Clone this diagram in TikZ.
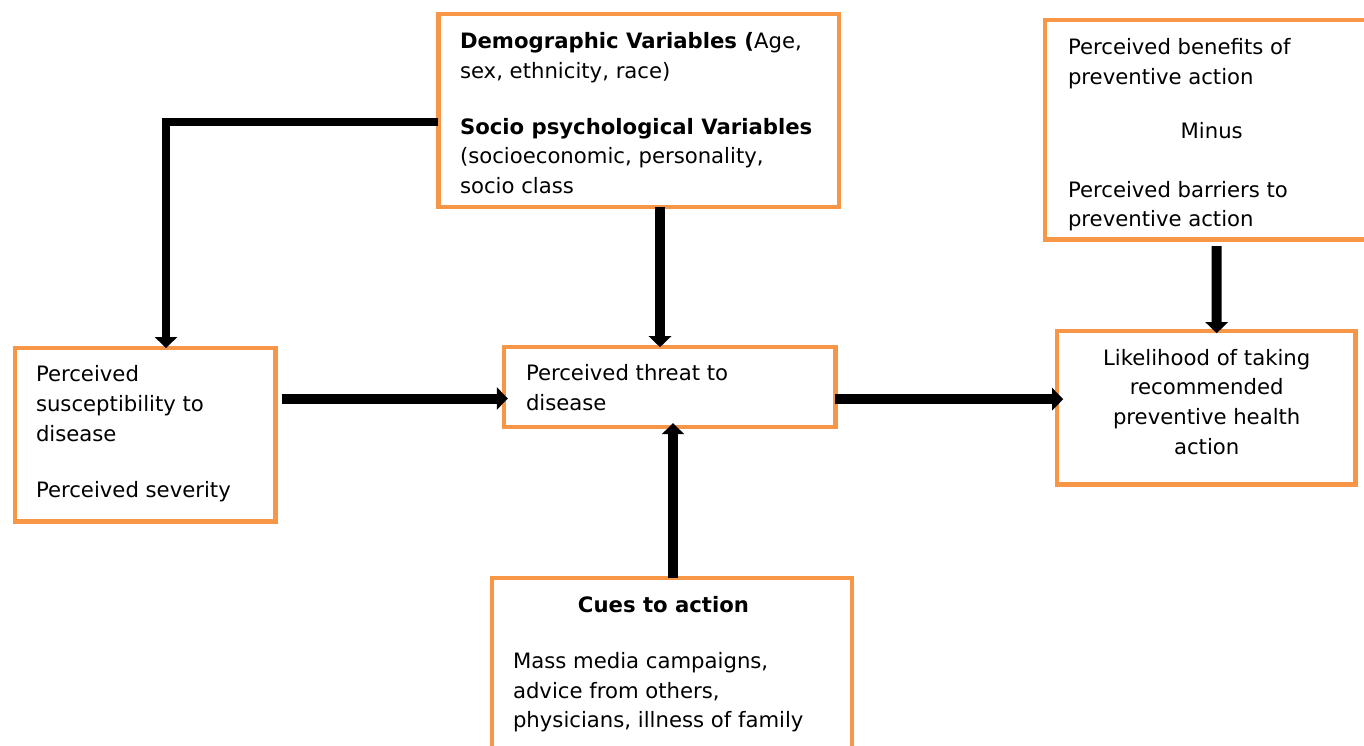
\documentclass[tikz,border=0pt]{standalone}
\usepackage{fontspec}
\setmainfont{DejaVu Sans}
\usetikzlibrary{arrows.meta,calc}
\definecolor{boxorange}{HTML}{F79646}
\newcommand\myfs{\fontsize{21.2pt}{29.7pt}\selectfont}
\tikzset{
  box/.style={draw=boxorange, line width=4.4pt, rectangle, inner sep=0pt, outer sep=0pt, fill=white},
  txt/.style={inner sep=0pt, outer sep=0pt, align=left, font=\myfs, anchor=north west, text=black},
  conn/.style={line width=10pt, line join=miter, -{Triangle[length=11pt,width=22pt]}},
}
\begin{document}
\begin{tikzpicture}[x=1pt,y=-1pt]
\useasboundingbox[fill=white] (0,0) rectangle (1364,746);
% boxes
\node[box, minimum width=400.7pt, minimum height=192.7pt] (demo) at (638.65,110.65) {};
\node[box, minimum width=325pt, minimum height=219.3pt] (top) at (1207.5,129.65) {};
\node[box, minimum width=260.6pt, minimum height=173.3pt] (lb) at (145,434.7) {};
\node[box, minimum width=331.5pt, minimum height=80pt] (thr) at (669.55,387.2) {};
\node[box, minimum width=298.3pt, minimum height=153.3pt] (lik) at (1206.35,407.85) {};
\node[box, minimum width=360.4pt, minimum height=182pt] (cues) at (671.9,669) {};
% texts
\node[txt] (demotxt) at (460,32.2) {\textbf{Demographic Variables (}Age,\\ sex, ethnicity, race)\\[26.5pt]
  \textbf{Socio psychological Variables}\\ (socioeconomic, personality,\\ socio class};
\node[txt] (bentxt) at (1068,38.2) {Perceived benefits of\\ preventive action};
\node[txt, anchor=base] (minustxt) at (1211.7,139) {Minus};
\node[txt] (bartxt) at (1068,180.9) {Perceived barriers to\\ preventive action};
\node[txt] (lbtxt) at (36,365.6) {Perceived\\ susceptibility to\\ disease\\[27pt] Perceived severity};
\node[txt] (thrtxt) at (526,364.6) {Perceived threat to\\ disease};
\node[txt, anchor=north, align=center] (liktxt) at (1206.7,348.9) {Likelihood of taking\\ recommended\\ preventive health\\ action};
\node[txt, anchor=base] (cuestitle) at (663.5,612.7) {\textbf{Cues to action}};
\node[txt] (cuestxt) at (513,652.2) {Mass media campaigns,\\ advice from others,\\ physicians, illness of family};
% connectors
\draw[conn, line width=8pt] ([yshift=-11pt]demo.west) -| ([xshift=21pt]lb.north);
\draw[conn] ([xshift=21.35pt]demo.south) -- ([xshift=-9.55pt]thr.north);
\coordinate (s3) at (281.7,398.5);
\draw[conn, shorten >=-4pt] (s3) -- (s3 -| thr.west);
\draw[conn, shorten >=-6pt] ([yshift=-12pt]thr.east) -- ([yshift=-12pt]thr.east -| lik.west);
\draw[conn, shorten >=-2pt] ([xshift=9.2pt,yshift=-6.7pt]top.south) -- ([xshift=10.35pt]lik.north);
\draw[conn, shorten >=-4pt] ([xshift=1.1pt]cues.north) -- ([xshift=3.45pt]thr.south);
\end{tikzpicture}
\end{document}
